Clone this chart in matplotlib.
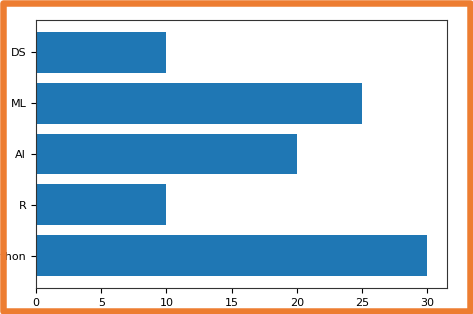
import matplotlib.pyplot as plt
from matplotlib.patches import Rectangle

# data, bottom to top
langs = ['Python', 'R', 'AI', 'ML', 'DS']
counts = [30, 10, 20, 25, 10]

W, H = 473, 314
fig = plt.figure(figsize=(W / 100, H / 100), dpi=100)
fig.patch.set_facecolor('white')

ax = fig.add_axes([36 / W, 1 - 288 / H, (447 - 36) / W, (288 - 20) / H])
ax.barh(langs, counts, color='#1f77b4')
ax.tick_params(labelsize=8, length=3.5, width=0.8)
ax.set_xticks([0, 5, 10, 15, 20, 25, 30])
for s in ax.spines.values():
    s.set_linewidth(0.8)
    s.set_color('#333333')

# orange frame round the picture
lw_px = 6.5
frame = Rectangle((lw_px / 2 / W, lw_px / 2 / H), 1 - lw_px / W, 1 - lw_px / H,
                  transform=fig.transFigure, fill=False,
                  edgecolor='#ed7d31', linewidth=lw_px * 72 / 100,
                  zorder=10, joinstyle='round')
fig.patches.append(frame)

fig.savefig('out.png', dpi=100)
